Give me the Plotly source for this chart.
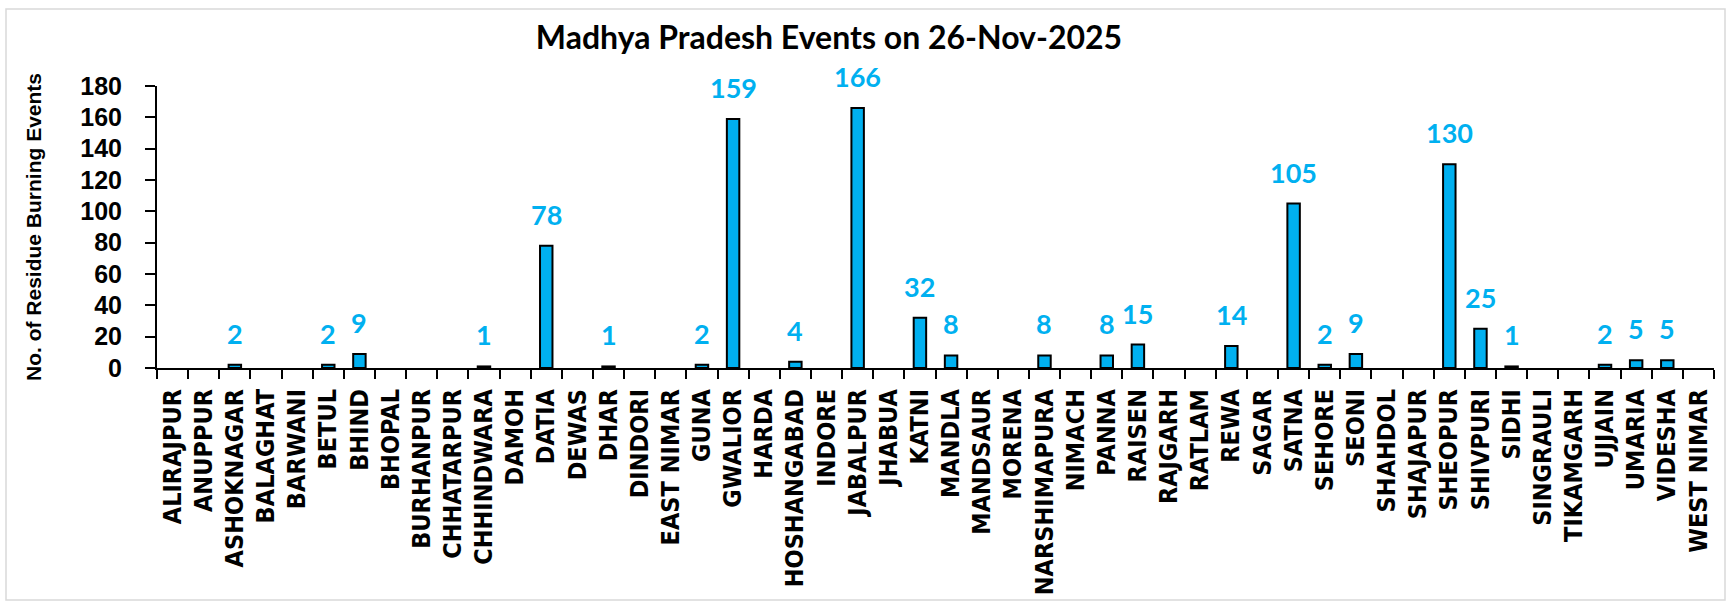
import plotly.graph_objects as go

districts = [
    "ALIRAJPUR", "ANUPPUR", "ASHOKNAGAR", "BALAGHAT", "BARWANI", "BETUL", "BHIND",
    "BHOPAL", "BURHANPUR", "CHHATARPUR", "CHHINDWARA", "DAMOH", "DATIA", "DEWAS",
    "DHAR", "DINDORI", "EAST NIMAR", "GUNA", "GWALIOR", "HARDA", "HOSHANGABAD",
    "INDORE", "JABALPUR", "JHABUA", "KATNI", "MANDLA", "MANDSAUR", "MORENA",
    "NARSHIMAPURA", "NIMACH", "PANNA", "RAISEN", "RAJGARH", "RATLAM", "REWA",
    "SAGAR", "SATNA", "SEHORE", "SEONI", "SHAHDOL", "SHAJAPUR", "SHEOPUR",
    "SHIVPURI", "SIDHI", "SINGRAULI", "TIKAMGARH", "UJJAIN", "UMARIA", "VIDESHA",
    "WEST NIMAR",
]
events = [
    0, 0, 2, 0, 0, 2, 9,
    0, 0, 0, 1, 0, 78, 0,
    1, 0, 0, 2, 159, 0, 4,
    0, 166, 0, 32, 8, 0, 0,
    8, 0, 8, 15, 0, 0, 14,
    0, 105, 2, 9, 0, 0, 130,
    25, 1, 0, 0, 2, 5, 5,
    0,
]
y_ticks = [0, 20, 40, 60, 80, 100, 120, 140, 160, 180]
title_text = "Madhya Pradesh Events on 26-Nov-2025"
y_title = "No. of Residue Burning Events"

BLUE = "#00B0F0"
W, H = 1731, 608
ML, MR, MT, MB = 157, 17, 86, 240
PW, PH = W - ML - MR, H - MT - MB

def px_to_paper_x(px):
    return (px - ML) / PW

def px_to_paper_y(py):
    return (H - MB - py) / PH

# zero-valued bars get no outline (Excel shows nothing for them)
outline_widths = [2 if v > 0 else 0 for v in events]

fig = go.Figure(
    go.Bar(
        x=districts,
        y=events,
        width=0.4,
        marker=dict(color=BLUE, line=dict(color="black", width=outline_widths)),
        hoverinfo="x+y",
    )
)

for d, v in zip(districts, events):
    if v > 0:
        fig.add_annotation(
            x=d, y=v, text=str(v), showarrow=False,
            yanchor="bottom", xanchor="center", yshift=13,
            font=dict(family="Lato", size=27, color=BLUE, weight="bold"),
        )

# y-axis title
fig.add_annotation(
    xref="paper", yref="paper",
    x=px_to_paper_x(33), y=0.5,
    text=y_title, textangle=-90, showarrow=False,
    xanchor="center", yanchor="middle",
    font=dict(family="Liberation Sans", size=21, color="black", weight="bold"),
)

# chart border
fig.add_shape(
    type="rect", xref="paper", yref="paper",
    x0=px_to_paper_x(6), x1=px_to_paper_x(1725),
    y0=px_to_paper_y(600), y1=px_to_paper_y(9),
    line=dict(color="#d9d9d9", width=1.5), layer="below",
)

fig.update_layout(
    width=W, height=H,
    margin=dict(l=ML, r=MR, t=MT, b=MB, pad=0),
    paper_bgcolor="white", plot_bgcolor="white",
    showlegend=False,
    title=dict(
        text=title_text, xref="paper", yref="container",
        x=px_to_paper_x(829), xanchor="center",
        y=1 - 37.5 / H, yanchor="middle",
        font=dict(family="Lato", size=32, color="black", weight="bold"),
    ),
    xaxis=dict(
        type="category",
        tickangle=-90,
        ticks="outside", ticklen=9, tickwidth=1.5, tickcolor="black",
        tickson="boundaries",
        showline=True, linecolor="black", linewidth=2,
        showgrid=False, zeroline=False,
        tickfont=dict(family="DejaVu Sans Condensed, DejaVu Sans", size=25, color="black", weight="bold"),
        ticklabelstandoff=9,
    ),
    yaxis=dict(
        range=[0, 180],
        tickvals=y_ticks,
        ticks="outside", ticklen=10, tickwidth=1.5, tickcolor="black",
        showline=True, linecolor="black", linewidth=2,
        showgrid=False, zeroline=False,
        tickfont=dict(family="Liberation Sans", size=25, color="black", weight="bold"),
        ticklabelstandoff=18,
    ),
)

fig.write_html(
    "out.html",
    config={"displayModeBar": False},
    post_script="document.body.style.margin='0';",
)
